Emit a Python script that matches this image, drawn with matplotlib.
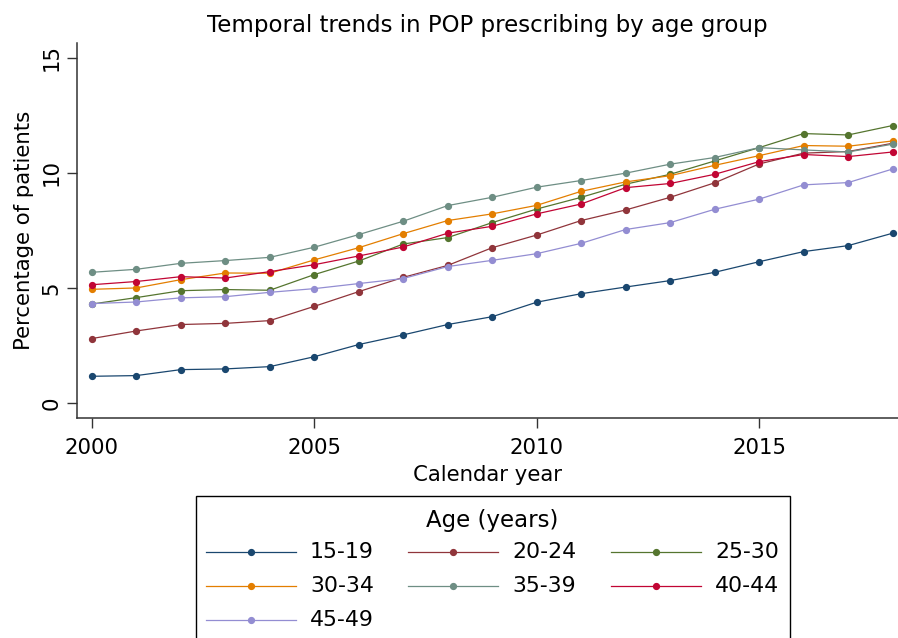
import matplotlib
matplotlib.use("Agg")
import matplotlib.pyplot as plt
from matplotlib.lines import Line2D
from matplotlib.patches import Rectangle

years = list(range(2000, 2019))
labels = ["15-19", "20-24", "25-30", "30-34", "35-39", "40-44", "45-49"]

age_15_19 = [1.16, 1.19, 1.45, 1.48, 1.58, 2.01, 2.54, 2.96, 3.41, 3.75, 4.38, 4.75, 5.04, 5.32, 5.68, 6.14, 6.58, 6.84, 7.38]
age_20_24 = [2.80, 3.13, 3.41, 3.46, 3.58, 4.20, 4.84, 5.46, 5.98, 6.75, 7.30, 7.93, 8.39, 8.94, 9.57, 10.39, 10.86, 10.93, 11.29]
age_25_30 = [4.30, 4.58, 4.88, 4.93, 4.90, 5.58, 6.17, 6.91, 7.19, 7.84, 8.43, 8.94, 9.51, 9.94, 10.52, 11.10, 11.71, 11.65, 12.06]
age_30_34 = [4.94, 5.00, 5.36, 5.65, 5.64, 6.22, 6.75, 7.36, 7.93, 8.22, 8.59, 9.20, 9.61, 9.88, 10.33, 10.75, 11.19, 11.16, 11.39]
age_35_39 = [5.68, 5.81, 6.07, 6.19, 6.33, 6.77, 7.32, 7.90, 8.58, 8.94, 9.38, 9.67, 9.99, 10.38, 10.67, 11.10, 11.00, 10.91, 11.25]
age_40_44 = [5.14, 5.28, 5.49, 5.43, 5.71, 6.01, 6.39, 6.78, 7.38, 7.68, 8.22, 8.65, 9.36, 9.54, 9.94, 10.49, 10.80, 10.71, 10.91]
age_45_49 = [4.32, 4.39, 4.57, 4.62, 4.81, 4.97, 5.19, 5.41, 5.93, 6.20, 6.49, 6.94, 7.54, 7.84, 8.42, 8.86, 9.48, 9.58, 10.17]

series = [age_15_19, age_20_24, age_25_30, age_30_34, age_35_39, age_40_44, age_45_49]
colors = ["#1a476f", "#90353b", "#55752f", "#e37e00", "#6e8e84", "#c10534", "#938dd2"]

x_ticks = [2000, 2005, 2010, 2015]
y_ticks = [0, 5, 10, 15]

plt.rcParams['font.family'] = ['DejaVu Sans']

fig = plt.figure(figsize=(8.98, 6.38), dpi=100)
ax = fig.add_axes([76.7/898, 1 - 417.7/638, 1 - 76.7/898, (417.7 - 42.7)/638])

for vals, c, lab in zip(series, colors, labels):
    ax.plot(years, vals, color=c, lw=0.9, marker='o', ms=4.2, label=lab)

ax.set_xlim(1999.66, 2018.12)
ax.set_ylim(-0.64, 15.66)
ax.set_xticks(x_ticks)
ax.set_yticks(y_ticks)
ax.tick_params(axis='both', labelsize=15.3, length=7, width=1, color='#333333')
ax.tick_params(axis='x', pad=7.5)
ax.tick_params(axis='y', pad=4)
for t in ax.get_yticklabels():
    t.set_rotation(90)
    t.set_va('center')
ax.spines['top'].set_visible(False)
ax.spines['right'].set_visible(False)
for s in ['left', 'bottom']:
    ax.spines[s].set_color('#333333')
    ax.spines[s].set_linewidth(1.1)

ax.set_xlabel("Calendar year", fontsize=15.3, labelpad=5)
ax.set_ylabel("Percentage of patients", fontsize=15.3, labelpad=5)
ax.set_title("Temporal trends in POP prescribing by age group", fontsize=16.5, pad=8)

# Legend drawn manually (box extends past bottom edge as in the reference)
W, H = 898, 638
def fx(px): return px / W
def fy(py): return 1 - py / H

fig.add_artist(Rectangle((fx(196), fy(700)), fx(790) - fx(196), fy(496) - fy(700),
                         transform=fig.transFigure, fill=False, edgecolor='black', lw=1.0))
fig.text(fx(492), fy(520), "Age (years)", fontsize=16.5, ha='center', va='center')
col_x = [206, 408, 611]
row_y = [552, 586, 620]
for i, (lab, c) in enumerate(zip(labels, colors)):
    r, k = divmod(i, 3)
    x0 = col_x[k]
    y0 = row_y[r]
    fig.add_artist(Line2D([fx(x0), fx(x0 + 90)], [fy(y0), fy(y0)], transform=fig.transFigure,
                          color=c, lw=0.9))
    fig.add_artist(Line2D([fx(x0 + 45)], [fy(y0)], transform=fig.transFigure,
                          color=c, marker='o', ms=4.2, lw=0))
    fig.text(fx(x0 + 104), fy(y0), lab, fontsize=15.8, ha='left', va='center')

fig.savefig("out.png", dpi=100)
